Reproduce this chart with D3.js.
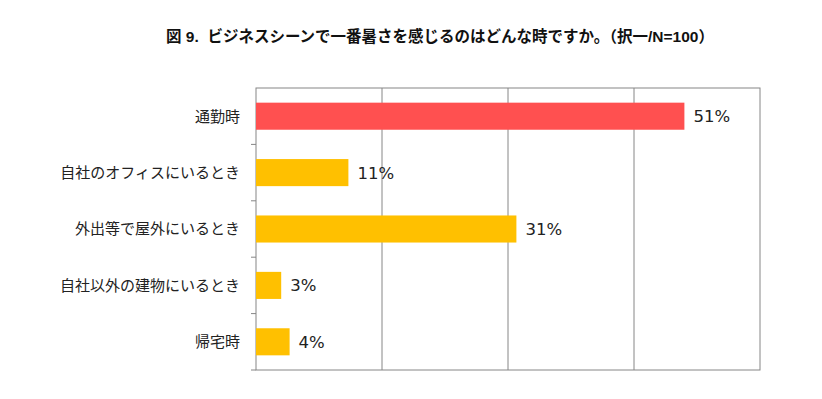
<!DOCTYPE html>
<html>
<head>
<meta charset="utf-8">
<script src="https://cdn.jsdelivr.net/npm/d3@7"></script>
<style>
  body { margin: 0; background: #fff; }
  svg { display: block; }
</style>
</head>
<body>
<div id="chart"></div>
<script>
var categories = ['通勤時', '自社のオフィスにいるとき', '外出等で屋外にいるとき', '自社以外の建物にいるとき', '帰宅時']
var values = [51, 11, 31, 3, 4]
var barColors = ['#ff5050', '#ffc000', '#ffc000', '#ffc000', '#ffc000']
var gridTicks = [15, 30, 45]
var title = '図 9.  ビジネスシーンで一番暑さを感じるのはどんな時ですか。（択一/N=100）'

var width = 822, height = 399
var margin = {top: 88, right: 62, bottom: 29, left: 256}

var svg = d3.select('#chart').append('svg')
  .attr('width', width)
  .attr('height', height)

var x = d3.scaleLinear().domain([0, 60]).range([margin.left, width - margin.right])
var y = d3.scaleBand().domain(categories).range([margin.top, height - margin.bottom]).paddingInner(0.52).paddingOuter(0.26)

// title
svg.append('text')
  .attr('x', 440)
  .attr('y', 42)
  .attr('text-anchor', 'middle')
  .attr('xml:space', 'preserve')
  .style('white-space', 'pre')
  .style('font-family', '"Liberation Sans", "Noto Sans CJK JP", sans-serif')
  .style('font-weight', 'bold')
  .style('font-size', '15.5px')
  .attr('fill', '#111')
  .text(title)

// grid lines
svg.append('g')
  .selectAll('line')
  .data(gridTicks)
  .enter().append('line')
    .attr('x1', d => x(d)).attr('x2', d => x(d))
    .attr('y1', margin.top).attr('y2', height - margin.bottom)
    .attr('stroke', '#868686')
    .attr('stroke-width', 1)

// plot frame
svg.append('rect')
  .attr('x', x(0))
  .attr('y', margin.top)
  .attr('width', x(60) - x(0))
  .attr('height', height - margin.bottom - margin.top)
  .attr('fill', 'none')
  .attr('stroke', '#868686')
  .attr('stroke-width', 1)

// category boundary ticks on left axis
var boundaries = d3.range(categories.length + 1).map(i => margin.top + i * (height - margin.bottom - margin.top) / categories.length)
svg.append('g')
  .selectAll('line')
  .data(boundaries.slice(1))
  .enter().append('line')
    .attr('x1', x(0) - 5).attr('x2', x(0))
    .attr('y1', d => d).attr('y2', d => d)
    .attr('stroke', '#868686')

// bars
svg.append('g')
  .selectAll('rect')
  .data(values)
  .enter().append('rect')
    .attr('x', x(0))
    .attr('y', (d, i) => y(categories[i]))
    .attr('width', d => x(d) - x(0))
    .attr('height', y.bandwidth())
    .attr('fill', (d, i) => barColors[i])

// value labels
svg.append('g')
  .selectAll('text')
  .data(values)
  .enter().append('text')
    .attr('x', d => x(d) + 9)
    .attr('y', (d, i) => y(categories[i]) + y.bandwidth() / 2)
    .attr('dy', '0.36em')
    .style('font-family', '"DejaVu Sans", Verdana, sans-serif')
    .style('font-size', '16.5px')
    .attr('fill', '#222')
    .text(d => d + '%')

// category labels
svg.append('g')
  .selectAll('text')
  .data(categories)
  .enter().append('text')
    .attr('x', 240)
    .attr('y', d => y(d) + y.bandwidth() / 2)
    .attr('dy', '0.36em')
    .attr('text-anchor', 'end')
    .style('font-family', '"Noto Sans CJK JP", sans-serif')
    .style('font-size', '15px')
    .attr('fill', '#222')
    .text(d => d)
</script>
</body>
</html>
